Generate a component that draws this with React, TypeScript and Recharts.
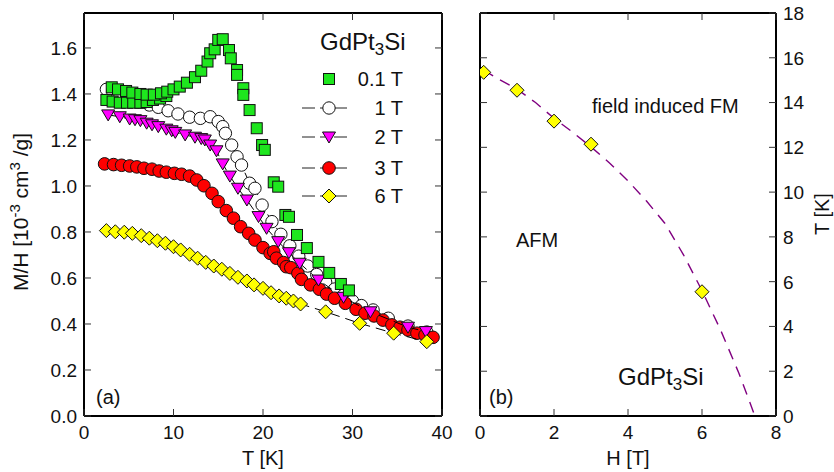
import React from 'react';
import { ComposedChart, Scatter, XAxis, YAxis } from 'recharts';

const FONT = '"Liberation Sans", Arial, Helvetica, sans-serif';

// ---------- panel (a): M/H vs T ----------
const tTicks = [0, 10, 20, 30, 40];
const mhTicks = [0, 0.2, 0.4, 0.6, 0.8, 1.0, 1.2, 1.4, 1.6];

const field01: [number, number][] = [
  [2.5, 1.374], [3.2, 1.367], [4.0, 1.362], [4.8, 1.362], [5.5, 1.362], [6.3, 1.362], [7.0, 1.365], [7.7, 1.374], [8.5, 1.38], [9.2, 1.391],
  [3.1, 1.429], [3.8, 1.42], [4.7, 1.413], [5.4, 1.406], [6.3, 1.4], [7.0, 1.397], [7.8, 1.397], [8.6, 1.403], [9.3, 1.41], [10.0, 1.42],
  [10.7, 1.432], [11.5, 1.449], [12.4, 1.473], [13.1, 1.501], [13.8, 1.541], [14.1, 1.577], [14.6, 1.594], [15.0, 1.635], [15.5, 1.638],
  [16.2, 1.591], [16.4, 1.555], [17.1, 1.504], [17.1, 1.483], [17.8, 1.425], [17.8, 1.396], [18.5, 1.33], [19.3, 1.251], [19.9, 1.178],
  [20.2, 1.157], [21.2, 1.016], [21.7, 0.997], [22.5, 0.874], [22.9, 0.866], [23.8, 0.787], [24.9, 0.73], [26.2, 0.67], [27.4, 0.622],
  [28.7, 0.574], [29.6, 0.546],
];

const field1: [number, number][] = [
  [2.5, 1.42], [3.2, 1.412], [4.0, 1.4], [4.8, 1.388], [5.6, 1.376], [6.4, 1.364], [7.3, 1.352], [8.3, 1.342], [9.4, 1.327], [10.5, 1.313],
  [11.8, 1.299], [13.0, 1.294], [14.1, 1.301], [15.0, 1.28], [15.5, 1.258], [15.8, 1.229], [16.5, 1.178], [17.1, 1.127], [17.6, 1.091],
  [18.5, 1.012], [19.1, 0.99], [19.9, 0.917], [21.0, 0.845], [22.0, 0.79], [23.0, 0.74], [24.0, 0.695], [25.0, 0.652], [26.0, 0.615],
  [27.0, 0.582], [28.0, 0.552], [29.0, 0.525], [30.0, 0.5], [31.0, 0.48], [32.3, 0.461], [34.0, 0.425], [36.2, 0.391], [38.3, 0.365],
];

const field2: [number, number][] = [
  [2.7, 1.309], [4.0, 1.301], [5.1, 1.291], [5.7, 1.288], [6.3, 1.284], [7.0, 1.273], [7.6, 1.266], [8.3, 1.258], [9.2, 1.247], [9.8, 1.24],
  [10.2, 1.233], [11.3, 1.222], [12.4, 1.212], [13.1, 1.206], [13.5, 1.2], [14.1, 1.178], [14.8, 1.153], [15.5, 1.096], [16.3, 1.043],
  [17.2, 0.99], [18.2, 0.939], [19.5, 0.867], [20.4, 0.816], [21.7, 0.758], [22.9, 0.71], [24.1, 0.664], [26.2, 0.591], [29.0, 0.516],
  [32.0, 0.453], [36.2, 0.386], [38.2, 0.367],
];

const field3: [number, number][] = [
  [2.3, 1.096], [3.3, 1.093], [4.2, 1.09], [5.1, 1.087], [5.9, 1.083], [6.7, 1.077], [7.6, 1.073], [8.4, 1.065], [9.2, 1.06], [10.1, 1.055],
  [10.9, 1.051], [11.8, 1.043], [12.6, 1.026], [13.4, 1.001], [14.3, 0.968], [15.0, 0.932], [15.9, 0.893], [16.7, 0.86], [17.5, 0.823],
  [18.4, 0.794], [19.1, 0.765], [20.0, 0.732], [20.8, 0.707], [21.2, 0.714], [21.5, 0.686], [22.3, 0.667], [22.6, 0.649], [23.1, 0.645],
  [23.9, 0.62], [24.3, 0.594], [25.3, 0.57], [26.3, 0.551], [27.1, 0.53], [28.0, 0.512], [29.2, 0.49], [30.4, 0.464], [31.4, 0.447],
  [32.4, 0.435], [33.4, 0.417], [34.4, 0.396], [35.3, 0.386], [36.2, 0.374], [37.2, 0.36], [38.1, 0.352], [39.0, 0.342],
];

const field6: [number, number][] = [
  [2.5, 0.806], [3.5, 0.801], [4.5, 0.799], [5.4, 0.794], [6.4, 0.784], [7.3, 0.773], [8.2, 0.762], [9.1, 0.751], [10.0, 0.736],
  [10.8, 0.722], [11.8, 0.703], [12.7, 0.686], [13.6, 0.668], [14.5, 0.652], [15.4, 0.638], [16.3, 0.62], [17.2, 0.603], [18.2, 0.587],
  [19.0, 0.57], [20.0, 0.555], [20.9, 0.536], [21.8, 0.522], [22.6, 0.512], [23.4, 0.5], [24.2, 0.487], [27.0, 0.453], [30.8, 0.403],
  [34.6, 0.36], [38.3, 0.323],
];

const legendLabels = ['0.1 T', '1 T', '2 T', '3 T', '6 T'];

// ---------- panel (b): phase diagram ----------
const hTicks = [0, 2, 4, 6, 8];
const tnTicks = [0, 2, 4, 6, 8, 10, 12, 14, 16, 18];
const transitionPts: [number, number][] = [[0.1, 15.35], [1.0, 14.55], [2.0, 13.17], [3.0, 12.14], [6.0, 5.55]];
const phaseLine: [number, number][] = [
  [0.1, 15.45], [0.5, 15.05], [1.0, 14.6], [1.5, 14.0], [2.0, 13.3], [2.5, 12.68], [3.0, 12.02], [3.5, 11.3], [4.0, 10.5],
  [4.5, 9.6], [5.0, 8.6], [5.5, 7.2], [6.0, 5.6], [6.5, 3.85], [7.0, 1.9], [7.43, 0],
];

const pts = (a: [number, number][]) => a.map(([x, y]) => ({ x, y }));

// ---------- marker shapes ----------
const GREEN = '#1ee61e';
const MAGENTA = '#ff00ff';
const RED = '#ff0000';
const YELLOW = '#ffff00';
const EDGE = '#111';

const drawSquare = (cx: number, cy: number) => (
  <rect x={cx - 5.5} y={cy - 5.5} width={11} height={11} fill={GREEN} stroke={EDGE} strokeWidth={1} />
);
const drawOpen = (cx: number, cy: number) => (
  <circle cx={cx} cy={cy} r={6.2} fill="#fff" stroke={EDGE} strokeWidth={1} />
);
const drawTri = (cx: number, cy: number) => (
  <path d={`M${cx - 6.5},${cy - 5} L${cx + 6.5},${cy - 5} L${cx},${cy + 6} Z`} fill={MAGENTA} stroke={EDGE} strokeWidth={1} />
);
const drawRed = (cx: number, cy: number) => (
  <circle cx={cx} cy={cy} r={6.3} fill={RED} stroke={EDGE} strokeWidth={1} />
);
const drawDiamond = (cx: number, cy: number, s = 7) => (
  <path d={`M${cx},${cy - s} L${cx + s},${cy} L${cx},${cy + s} L${cx - s},${cy} Z`} fill={YELLOW} stroke={EDGE} strokeWidth={1} />
);

const shapeOf = (fn: (cx: number, cy: number) => React.ReactElement) => (p: any) =>
  p && p.cx != null && p.cy != null ? fn(p.cx, p.cy) : <g />;

const dashLine = { stroke: '#000', strokeWidth: 1, strokeDasharray: '10 6' };

// ---------- ticks (inward) ----------
type Side = 'left' | 'right' | 'top' | 'bottom';
const TL = 7;
const makeTick = (side: Side, fmt: ((v: number) => string) | null) => (props: any) => {
  const { x, y, payload } = props;
  const v = payload ? payload.value : 0;
  let line: React.ReactElement;
  let label: React.ReactElement | null = null;
  const ts = { fontFamily: FONT, fontSize: 19, fill: '#111' } as const;
  if (side === 'left') {
    line = <line x1={x} y1={y} x2={x + TL} y2={y} stroke="#333" strokeWidth={1} />;
    if (fmt) label = <text x={x - 7} y={y} dy="0.36em" textAnchor="end" {...ts}>{fmt(v)}</text>;
  } else if (side === 'right') {
    line = <line x1={x} y1={y} x2={x - TL} y2={y} stroke="#333" strokeWidth={1} />;
    if (fmt) label = <text x={x + 7} y={y} dy="0.36em" textAnchor="start" {...ts}>{fmt(v)}</text>;
  } else if (side === 'bottom') {
    line = <line x1={x} y1={y} x2={x} y2={y - TL} stroke="#333" strokeWidth={1} />;
    if (fmt) label = <text x={x} y={y + 23} textAnchor="middle" {...ts}>{fmt(v)}</text>;
  } else {
    line = <line x1={x} y1={y} x2={x} y2={y + TL} stroke="#333" strokeWidth={1} />;
  }
  return <g>{line}{label}</g>;
};

const axisLine = { stroke: '#000', strokeWidth: 2 };

const PanelA = () => (
  <ComposedChart width={460} height={472} margin={{ top: 0, right: 0, bottom: 26, left: 0 }}>
    <XAxis xAxisId="b" dataKey="x" type="number" domain={[0, 40]} ticks={tTicks} interval={0} orientation="bottom" height={30}
      tickSize={0} tickMargin={0} tickLine={false} axisLine={axisLine} tick={makeTick('bottom', (v) => String(v))} allowDataOverflow />
    <XAxis xAxisId="t" dataKey="x" type="number" domain={[0, 40]} ticks={tTicks} interval={0} orientation="top" height={13}
      tickSize={0} tickMargin={0} tickLine={false} axisLine={axisLine} tick={makeTick('top', null)} allowDataOverflow />
    <YAxis yAxisId="l" dataKey="y" type="number" domain={[0, 1.752]} ticks={mhTicks} interval={0} orientation="left" width={84}
      tickSize={0} tickMargin={0} tickLine={false} axisLine={axisLine} tick={makeTick('left', (v) => v.toFixed(1))} allowDataOverflow />
    <YAxis yAxisId="r" dataKey="y" type="number" domain={[0, 1.752]} ticks={mhTicks} interval={0} orientation="right" width={18}
      tickSize={0} tickMargin={0} tickLine={false} axisLine={axisLine} tick={makeTick('right', null)} allowDataOverflow />
    <Scatter xAxisId="b" yAxisId="l" data={pts(field1)} dataKey="y" line={dashLine} shape={shapeOf(drawOpen)} isAnimationActive={false} />
    <Scatter xAxisId="b" yAxisId="l" data={pts(field3)} dataKey="y" line={dashLine} shape={shapeOf(drawRed)} isAnimationActive={false} />
    <Scatter xAxisId="b" yAxisId="l" data={pts(field2)} dataKey="y" line={dashLine} shape={shapeOf(drawTri)} isAnimationActive={false} />
    <Scatter xAxisId="b" yAxisId="l" data={pts(field6)} dataKey="y" line={dashLine} shape={shapeOf(drawDiamond)} isAnimationActive={false} />
    <Scatter xAxisId="b" yAxisId="l" data={pts(field01)} dataKey="y" shape={shapeOf(drawSquare)} isAnimationActive={false} />
  </ComposedChart>
);

const PanelB = () => (
  <ComposedChart width={374} height={472} margin={{ top: 0, right: 8, bottom: 26, left: 0 }}>
    <XAxis xAxisId="b" dataKey="x" type="number" domain={[0, 8]} ticks={hTicks} interval={0} orientation="bottom" height={30}
      tickSize={0} tickMargin={0} tickLine={false} axisLine={axisLine} tick={makeTick('bottom', (v) => String(v))} allowDataOverflow />
    <XAxis xAxisId="t" dataKey="x" type="number" domain={[0, 8]} ticks={hTicks} interval={0} orientation="top" height={13}
      tickSize={0} tickMargin={0} tickLine={false} axisLine={axisLine} tick={makeTick('top', null)} allowDataOverflow />
    <YAxis yAxisId="l" dataKey="y" type="number" domain={[0, 18]} ticks={tnTicks} interval={0} orientation="left" width={20}
      tickSize={0} tickMargin={0} tickLine={false} axisLine={axisLine} tick={makeTick('left', null)} allowDataOverflow />
    <YAxis yAxisId="r" dataKey="y" type="number" domain={[0, 18]} ticks={tnTicks} interval={0} orientation="right" width={50}
      tickSize={0} tickMargin={0} tickLine={false} axisLine={axisLine} tick={makeTick('right', (v) => String(v))} allowDataOverflow />
    <Scatter xAxisId="b" yAxisId="r" data={pts(phaseLine)} dataKey="y" line={{ stroke: '#800080', strokeWidth: 1.4, strokeDasharray: '11 8' }}
      lineType="joint" shape={() => <g />} isAnimationActive={false} />
    <Scatter xAxisId="b" yAxisId="r" data={pts(transitionPts)} dataKey="y" shape={shapeOf(drawDiamond)} isAnimationActive={false} />
  </ComposedChart>
);

const legendShapes = [drawSquare, drawOpen, drawTri, drawRed, drawDiamond];
const legendY = [79, 108, 137, 168, 196];

const Overlay = () => {
  const t = { fontFamily: FONT, fill: '#111' } as const;
  return (
    <svg width={834} height={472} style={{ position: 'absolute', left: 0, top: 0, pointerEvents: 'none' }}>
      <text x={320} y={50} fontSize={24} {...t}>GdPt<tspan fontSize={17} dy={5}>3</tspan><tspan dy={-5}>Si</tspan></text>
      {legendLabels.map((lab, i) => (
        <g key={lab}>
          {i > 0 && <line x1={302} y1={legendY[i]} x2={352} y2={legendY[i]} stroke="#222" strokeWidth={1} strokeDasharray="13 5 5 9" />}
          {legendShapes[i](329, legendY[i])}
          <text x={403} y={legendY[i]} dy="0.36em" textAnchor="end" fontSize={20} {...t}>{lab}</text>
        </g>
      ))}
      <text x={96} y={404} fontSize={20} {...t}>(a)</text>
      <text x={489} y={404} fontSize={20} {...t}>(b)</text>
      <text x={618} y={385} fontSize={24} {...t}>GdPt<tspan fontSize={17} dy={5}>3</tspan><tspan dy={-5}>Si</tspan></text>
      <text x={592} y={113} fontSize={20} {...t}>field induced FM</text>
      <text x={516} y={247} fontSize={20} {...t}>AFM</text>
      <text x={263} y={465} fontSize={20} textAnchor="middle" {...t}>T [K]</text>
      <text x={628} y={465} fontSize={20} textAnchor="middle" {...t}>H [T]</text>
      <text x={822} y={214} dy="0.36em" fontSize={20} textAnchor="middle" transform="rotate(-90 822 214)" {...t}>T [K]</text>
      <text x={20} y={212} dy="0.36em" fontSize={21} textAnchor="middle" transform="rotate(-90 20 212)" {...t}>
        M/H [10<tspan fontSize={15} dy={-8}>-3</tspan><tspan dy={8}> cm</tspan><tspan fontSize={15} dy={-8}>3</tspan><tspan dy={8}> /g]</tspan>
      </text>
    </svg>
  );
};

export default function App() {
  return (
    <div style={{ position: 'absolute', left: 0, top: 0, width: 834, height: 472, background: '#fff', overflow: 'hidden', fontFamily: FONT }}>
      <div style={{ position: 'absolute', left: 0, top: 0 }}><PanelA /></div>
      <div style={{ position: 'absolute', left: 460, top: 0 }}><PanelB /></div>
      <Overlay />
    </div>
  );
}
